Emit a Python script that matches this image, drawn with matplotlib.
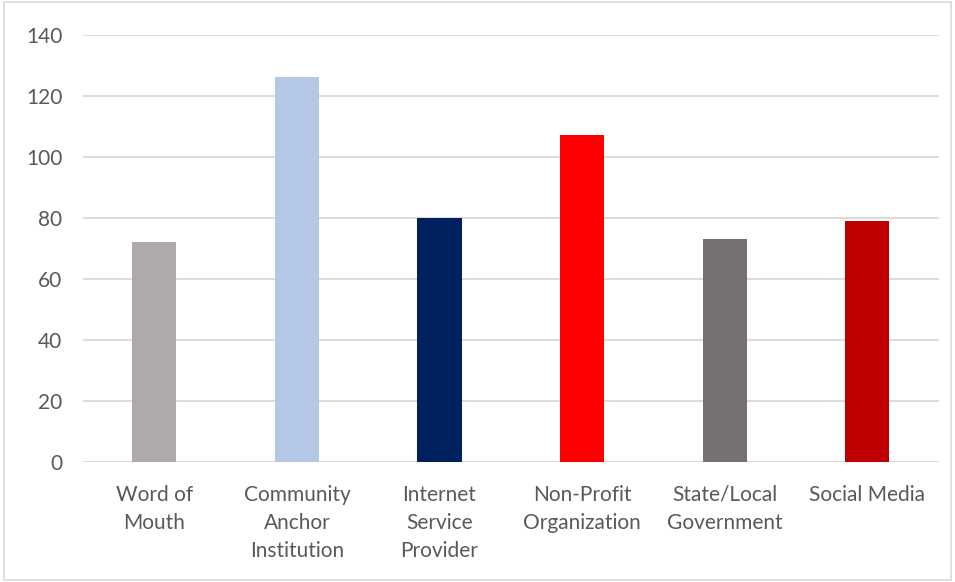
import matplotlib.pyplot as plt
import matplotlib.patches as patches

categories = ['Word of\nMouth', 'Community\nAnchor\nInstitution', 'Internet\nService\nProvider',
              'Non-Profit\nOrganization', 'State/Local\nGovernment', 'Social Media']
values = [72, 126, 80, 107, 73, 79]
colors = ['#aeaaaa', '#b4c7e7', '#002060', '#ff0000', '#767171', '#c00000']
yticks = [0, 20, 40, 60, 80, 100, 120, 140]

plt.rcParams['font.family'] = ['Lato', 'DejaVu Sans']

fig = plt.figure(figsize=(9.55, 5.82), dpi=100)
fig.patch.set_facecolor('white')
# thin grey frame around the whole chart
fig.add_artist(patches.Rectangle((0.004, 0.004), 0.992, 0.992, transform=fig.transFigure,
                                 fill=False, edgecolor='#d9d9d9', linewidth=1.2))

ax = fig.add_axes([0.0869, 0.2057, 0.896, 0.7347])
x = range(len(categories))
ax.bar(x, values, width=0.31, color=colors, zorder=3)

ax.set_xlim(-0.5, len(categories) - 0.5)
ax.set_ylim(0, 140)
ax.set_yticks(yticks)
ax.yaxis.grid(True, color='#d9d9d9', linewidth=1.3, zorder=0)
ax.set_axisbelow(True)
for s in ax.spines.values():
    s.set_visible(False)
ax.axhline(0, color='#d9d9d9', linewidth=1.3, zorder=2)

ax.set_xticks(list(x))
ax.set_xticklabels(categories, linespacing=1.52)
ax.tick_params(axis='both', length=0, labelsize=15, labelcolor='#595959')
ax.tick_params(axis='x', pad=16)
ax.tick_params(axis='y', pad=15)
for lbl in ax.get_xticklabels():
    lbl.set_va('top')

fig.savefig('out.png', dpi=100)
